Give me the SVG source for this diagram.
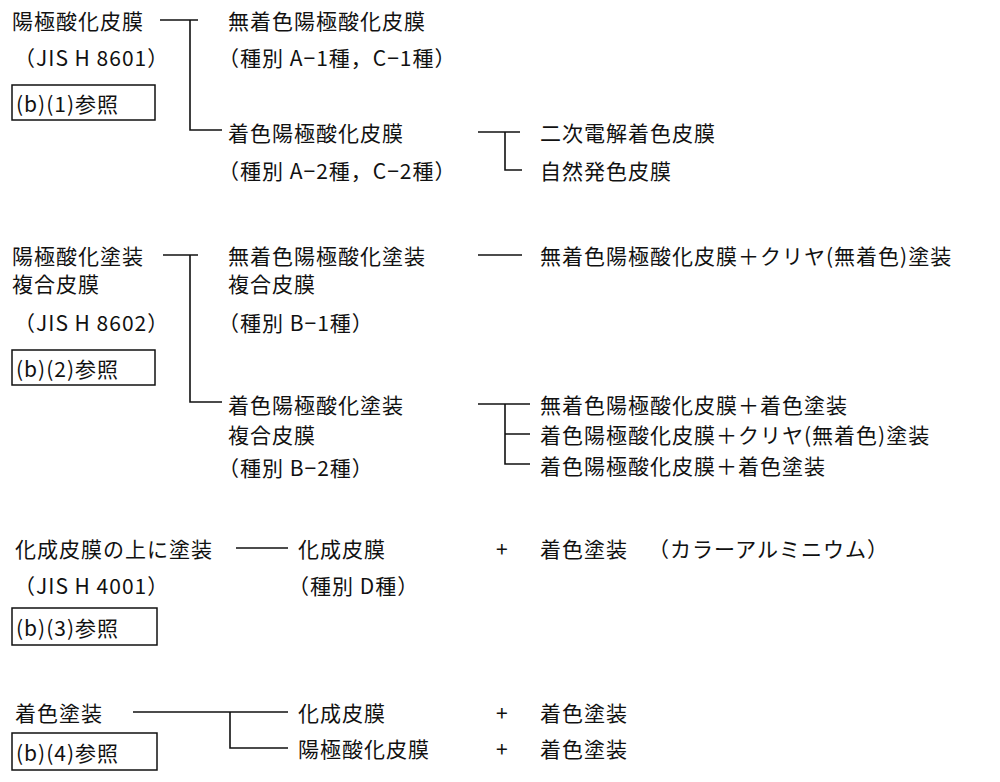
<svg xmlns="http://www.w3.org/2000/svg" width="1000" height="782" viewBox="0 0 1000 782">
<style>
text{font-family:"Noto Sans CJK JP",sans-serif;font-size:21px;fill:#111;dominant-baseline:central;letter-spacing:1px}
.c line,.c path{stroke:#111;stroke-width:1.6;fill:none}
.box{fill:none;stroke:#111;stroke-width:1.5}
</style>
<rect width="1000" height="782" fill="#fff"/>
<g class="c" id="connectors">
<line x1="160" y1="20" x2="198" y2="20"/><path d="M190 20V130H222"/>
<line x1="478" y1="132" x2="520" y2="132"/><path d="M505 132V170H522"/>
<line x1="163" y1="255" x2="198" y2="255"/><path d="M190 255V402H222"/>
<line x1="478" y1="255" x2="522" y2="255"/>
<line x1="478" y1="404" x2="530" y2="404"/><path d="M505 404V464H530M505 434H530"/>
<line x1="236" y1="548" x2="288" y2="548"/>
<line x1="133" y1="712" x2="288" y2="712"/><path d="M230 712V748H288"/>
</g>
<g id="n1"><text x="14" y="57">（JIS H 8601）</text><text x="12" y="20">陽極酸化皮膜</text>
<rect class="box" x="12" y="85" width="143" height="35"/><text x="16" y="103">(b)(1)参照</text></g>
<g id="n2"><text x="228" y="20">無着色陽極酸化皮膜</text><text x="218" y="57">（種別 A−1種，C−1種）</text></g>
<g id="n3"><text x="228" y="132">着色陽極酸化皮膜</text><text x="218" y="170">（種別 A−2種，C−2種）</text></g>
<g id="n4"><text x="540" y="132">二次電解着色皮膜</text></g>
<g id="n5"><text x="540" y="170">自然発色皮膜</text></g>
<g id="n6"><text x="12" y="255">陽極酸化塗装</text><text x="12" y="283">複合皮膜</text><text x="14" y="322">（JIS H 8602）</text>
<rect class="box" x="12" y="350" width="143" height="35"/><text x="16" y="368">(b)(2)参照</text></g>
<g id="n7"><text x="228" y="255">無着色陽極酸化塗装</text><text x="228" y="283">複合皮膜</text><text x="218" y="322">（種別 B−1種）</text></g>
<g id="n8"><text x="540" y="255">無着色陽極酸化皮膜＋クリヤ(無着色)塗装</text></g>
<g id="n9"><text x="228" y="404">着色陽極酸化塗装</text><text x="228" y="434">複合皮膜</text><text x="218" y="467">（種別 B−2種）</text></g>
<g id="n10"><text x="540" y="404">無着色陽極酸化皮膜＋着色塗装</text></g>
<g id="n11"><text x="540" y="434">着色陽極酸化皮膜＋クリヤ(無着色)塗装</text></g>
<g id="n12"><text x="540" y="465">着色陽極酸化皮膜＋着色塗装</text></g>
<g id="n13"><text x="15" y="548">化成皮膜の上に塗装</text><text x="14" y="585">（JIS H 4001）</text>
<rect class="box" x="12" y="608" width="145" height="37"/><text x="16" y="627">(b)(3)参照</text></g>
<g id="n14"><text x="298" y="548">化成皮膜</text><text x="288" y="585">（種別 D種）</text><text x="496" y="548">+</text><text x="540" y="548">着色塗装</text><text x="648" y="548">（カラーアルミニウム）</text></g>
<g id="n15"><text x="15" y="712">着色塗装</text>
<rect class="box" x="12" y="733" width="145" height="37"/><text x="16" y="752">(b)(4)参照</text></g>
<g id="n16"><text x="298" y="712">化成皮膜</text><text x="496" y="712">+</text><text x="540" y="712">着色塗装</text></g>
<g id="n17"><text x="298" y="748">陽極酸化皮膜</text><text x="496" y="748">+</text><text x="540" y="748">着色塗装</text></g>
</svg>
